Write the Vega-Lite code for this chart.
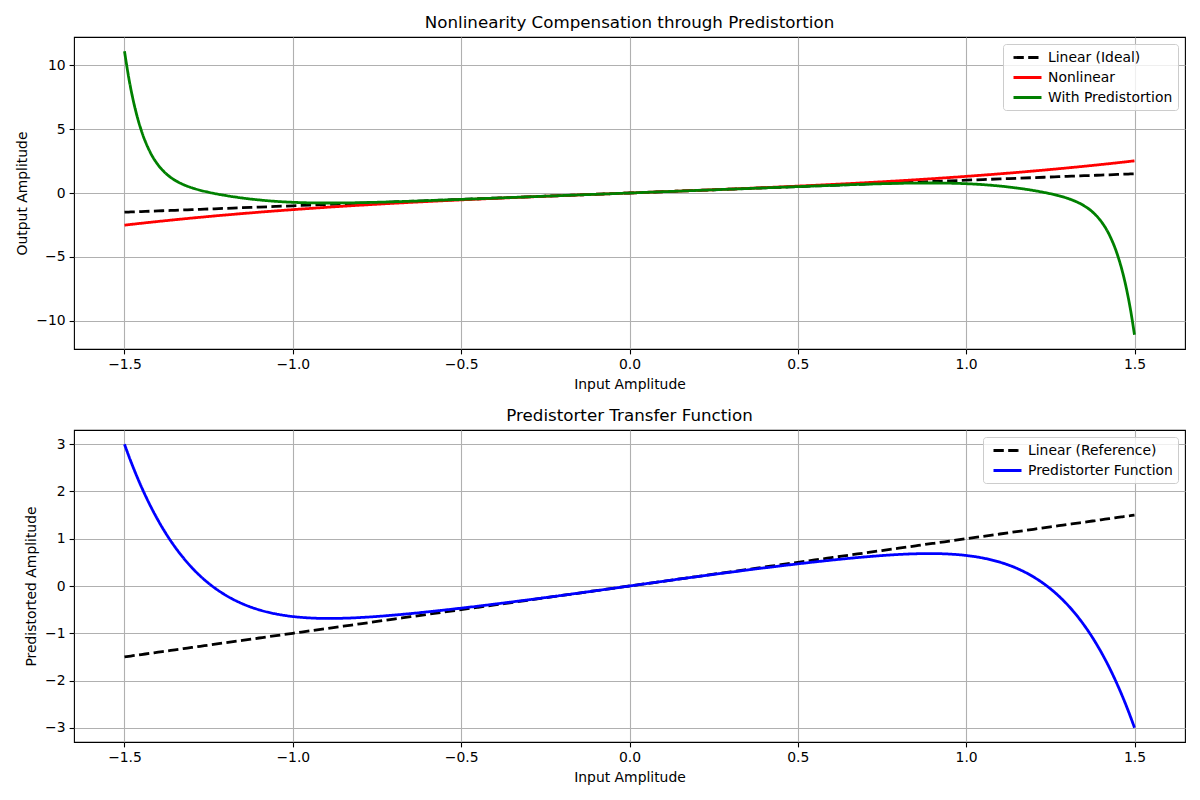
{
  "$schema": "https://vega.github.io/schema/vega-lite/v6.json",
  "background": "white",
  "padding": {"left": 15, "top": 14, "right": 5, "bottom": 5},
  "config": {
    "font": "DejaVu Sans",
    "view": {"stroke": "black", "strokeWidth": 1.1},
    "axis": {
      "grid": true,
      "gridColor": "#b0b0b0",
      "gridWidth": 1.1,
      "domain": false,
      "tickColor": "black",
      "tickWidth": 1.1,
      "tickSize": 4.9,
      "labelFontSize": 13.9,
      "labelColor": "black",
      "labelPadding": 4,
      "titleFontSize": 13.9,
      "titleFontWeight": "normal",
      "titleColor": "black",
      "titlePadding": 6
    },
    "title": {"fontSize": 16.7, "fontWeight": "normal", "color": "black", "offset": 5, "anchor": "middle"},
    "legend": {
      "orient": "top-right",
      "offset": 7,
      "title": null,
      "symbolType": "M-2,0H2",
      "symbolSize": 196,
      "symbolOffset": 11,
      "symbolStrokeWidth": 2.78,
      "symbolFillColor": "transparent",
      "labelFontSize": 13.9,
      "labelColor": "black",
      "labelOffset": 12,
      "rowPadding": 4,
      "padding": 5,
      "fillColor": "rgba(255,255,255,0.8)",
      "strokeColor": "#cccccc",
      "cornerRadius": 3
    },
    "line": {"strokeWidth": 2.78, "interpolate": "monotone"}
  },
  "datasets": {
    "curves": [
      {"x": -1.5, "nl": -2.5125, "out": 11.0821, "pd": 2.998},
      {"x": -1.4875, "nl": -2.4749, "out": 9.0241, "pd": 2.7545},
      {"x": -1.475, "nl": -2.4377, "out": 7.3482, "pd": 2.5241},
      {"x": -1.4625, "nl": -2.401, "out": 5.986, "pd": 2.3062},
      {"x": -1.45, "nl": -2.3646, "out": 4.88, "pd": 2.1003},
      {"x": -1.425, "nl": -2.2931, "out": 3.2557, "pd": 1.7225},
      {"x": -1.4, "nl": -2.2232, "out": 2.186, "pd": 1.3865},
      {"x": -1.375, "nl": -2.1549, "out": 1.4755, "pd": 1.0885},
      {"x": -1.35, "nl": -2.0881, "out": 0.9938, "pd": 0.8252},
      {"x": -1.325, "nl": -2.0229, "out": 0.6559, "pd": 0.5932},
      {"x": -1.3, "nl": -1.9591, "out": 0.4074, "pd": 0.3897},
      {"x": -1.275, "nl": -1.8968, "out": 0.2146, "pd": 0.2117},
      {"x": -1.25, "nl": -1.8359, "out": 0.057, "pd": 0.0569},
      {"x": -1.2, "nl": -1.7184, "out": -0.1946, "pd": -0.1925},
      {"x": -1.15, "nl": -1.6063, "out": -0.3908, "pd": -0.375},
      {"x": -1.1, "nl": -1.4993, "out": -0.5426, "pd": -0.5042},
      {"x": -1.05, "nl": -1.3973, "out": -0.6535, "pd": -0.5914},
      {"x": -1.0, "nl": -1.3, "out": -0.7269, "pd": -0.646},
      {"x": -0.95, "nl": -1.2072, "out": -0.7679, "pd": -0.6754},
      {"x": -0.9, "nl": -1.1187, "out": -0.7825, "pd": -0.6858},
      {"x": -0.85, "nl": -1.0342, "out": -0.7767, "pd": -0.6817},
      {"x": -0.8, "nl": -0.9536, "out": -0.7559, "pd": -0.6669},
      {"x": -0.75, "nl": -0.8766, "out": -0.7245, "pd": -0.6443},
      {"x": -0.7, "nl": -0.8029, "out": -0.6859, "pd": -0.6158},
      {"x": -0.65, "nl": -0.7324, "out": -0.6425, "pd": -0.5831},
      {"x": -0.6, "nl": -0.6648, "out": -0.5963, "pd": -0.5471},
      {"x": -0.55, "nl": -0.5999, "out": -0.5483, "pd": -0.5087},
      {"x": -0.5, "nl": -0.5375, "out": -0.4992, "pd": -0.4684},
      {"x": -0.45, "nl": -0.4773, "out": -0.4497, "pd": -0.4264},
      {"x": -0.4, "nl": -0.4192, "out": -0.3999, "pd": -0.383},
      {"x": -0.35, "nl": -0.3629, "out": -0.35, "pd": -0.3383},
      {"x": -0.3, "nl": -0.3081, "out": -0.3, "pd": -0.2925},
      {"x": -0.25, "nl": -0.2547, "out": -0.25, "pd": -0.2456},
      {"x": -0.2, "nl": -0.2024, "out": -0.2, "pd": -0.1977},
      {"x": -0.15, "nl": -0.151, "out": -0.15, "pd": -0.149},
      {"x": -0.1, "nl": -0.1003, "out": -0.1, "pd": -0.0997},
      {"x": -0.05, "nl": -0.05, "out": -0.05, "pd": -0.05},
      {"x": 0.0, "nl": 0.0, "out": 0.0, "pd": 0.0},
      {"x": 0.05, "nl": 0.05, "out": 0.05, "pd": 0.05},
      {"x": 0.1, "nl": 0.1003, "out": 0.1, "pd": 0.0997},
      {"x": 0.15, "nl": 0.151, "out": 0.15, "pd": 0.149},
      {"x": 0.2, "nl": 0.2024, "out": 0.2, "pd": 0.1977},
      {"x": 0.25, "nl": 0.2547, "out": 0.25, "pd": 0.2456},
      {"x": 0.3, "nl": 0.3081, "out": 0.3, "pd": 0.2925},
      {"x": 0.35, "nl": 0.3629, "out": 0.35, "pd": 0.3383},
      {"x": 0.4, "nl": 0.4192, "out": 0.3999, "pd": 0.383},
      {"x": 0.45, "nl": 0.4773, "out": 0.4497, "pd": 0.4264},
      {"x": 0.5, "nl": 0.5375, "out": 0.4992, "pd": 0.4684},
      {"x": 0.55, "nl": 0.5999, "out": 0.5483, "pd": 0.5087},
      {"x": 0.6, "nl": 0.6648, "out": 0.5963, "pd": 0.5471},
      {"x": 0.65, "nl": 0.7324, "out": 0.6425, "pd": 0.5831},
      {"x": 0.7, "nl": 0.8029, "out": 0.6859, "pd": 0.6158},
      {"x": 0.75, "nl": 0.8766, "out": 0.7245, "pd": 0.6443},
      {"x": 0.8, "nl": 0.9536, "out": 0.7559, "pd": 0.6669},
      {"x": 0.85, "nl": 1.0342, "out": 0.7767, "pd": 0.6817},
      {"x": 0.9, "nl": 1.1187, "out": 0.7825, "pd": 0.6858},
      {"x": 0.95, "nl": 1.2072, "out": 0.7679, "pd": 0.6754},
      {"x": 1.0, "nl": 1.3, "out": 0.7269, "pd": 0.646},
      {"x": 1.05, "nl": 1.3973, "out": 0.6535, "pd": 0.5914},
      {"x": 1.1, "nl": 1.4993, "out": 0.5426, "pd": 0.5042},
      {"x": 1.15, "nl": 1.6063, "out": 0.3908, "pd": 0.375},
      {"x": 1.2, "nl": 1.7184, "out": 0.1946, "pd": 0.1925},
      {"x": 1.25, "nl": 1.8359, "out": -0.057, "pd": -0.0569},
      {"x": 1.275, "nl": 1.8968, "out": -0.2146, "pd": -0.2117},
      {"x": 1.3, "nl": 1.9591, "out": -0.4074, "pd": -0.3897},
      {"x": 1.325, "nl": 2.0229, "out": -0.6559, "pd": -0.5932},
      {"x": 1.35, "nl": 2.0881, "out": -0.9938, "pd": -0.8252},
      {"x": 1.375, "nl": 2.1549, "out": -1.4755, "pd": -1.0885},
      {"x": 1.4, "nl": 2.2232, "out": -2.186, "pd": -1.3865},
      {"x": 1.425, "nl": 2.2931, "out": -3.2557, "pd": -1.7225},
      {"x": 1.45, "nl": 2.3646, "out": -4.88, "pd": -2.1003},
      {"x": 1.4625, "nl": 2.401, "out": -5.986, "pd": -2.3062},
      {"x": 1.475, "nl": 2.4377, "out": -7.3482, "pd": -2.5241},
      {"x": 1.4875, "nl": 2.4749, "out": -9.0241, "pd": -2.7545},
      {"x": 1.5, "nl": 2.5125, "out": -11.0821, "pd": -2.998}
    ]
  },
  "spacing": 14,
  "resolve": {"scale": {"color": "independent", "strokeDash": "independent", "x": "independent", "y": "independent"}},
  "vconcat": [
    {
      "width": 1111,
      "height": 312,
      "title": {"text": "Nonlinearity Compensation through Predistortion"},
      "data": {"name": "curves"},
      "encoding": {
        "x": {
          "field": "x",
          "type": "quantitative",
          "scale": {"domain": [-1.65, 1.65], "nice": false, "zero": false},
          "axis": {"values": [-1.5, -1, -0.5, 0, 0.5, 1, 1.5], "format": ".1f", "title": "Input Amplitude"}
        }
      },
      "layer": [
        {
          "mark": {"type": "line"},
          "encoding": {
            "y": {"field": "x", "type": "quantitative", "title": "Output Amplitude",
                  "scale": {"domain": [-12.19, 12.19], "nice": false, "zero": false},
                  "axis": {"values": [-10, -5, 0, 5, 10], "format": "d"}},
            "color": {"datum": "Linear (Ideal)", "type": "nominal",
                      "scale": {"domain": ["Linear (Ideal)", "Nonlinear", "With Predistortion"], "range": ["black", "red", "green"]},
                      "legend": {"title": null}},
            "strokeDash": {"datum": "Linear (Ideal)", "type": "nominal",
                           "scale": {"domain": ["Linear (Ideal)", "Nonlinear", "With Predistortion"], "range": [[10.3, 4.4], [1, 0], [1, 0]]},
                           "legend": {"title": null}}
          }
        },
        {
          "mark": {"type": "line"},
          "encoding": {
            "y": {"field": "nl", "type": "quantitative", "title": "Output Amplitude"},
            "color": {"datum": "Nonlinear", "type": "nominal"},
            "strokeDash": {"datum": "Nonlinear", "type": "nominal"}
          }
        },
        {
          "mark": {"type": "line"},
          "encoding": {
            "y": {"field": "out", "type": "quantitative", "title": "Output Amplitude"},
            "color": {"datum": "With Predistortion", "type": "nominal"},
            "strokeDash": {"datum": "With Predistortion", "type": "nominal"}
          }
        }
      ]
    },
    {
      "width": 1111,
      "height": 312,
      "title": {"text": "Predistorter Transfer Function"},
      "data": {"name": "curves"},
      "encoding": {
        "x": {
          "field": "x",
          "type": "quantitative",
          "scale": {"domain": [-1.65, 1.65], "nice": false, "zero": false},
          "axis": {"values": [-1.5, -1, -0.5, 0, 0.5, 1, 1.5], "format": ".1f", "title": "Input Amplitude"}
        }
      },
      "layer": [
        {
          "mark": {"type": "line"},
          "encoding": {
            "y": {"field": "x", "type": "quantitative", "title": "Predistorted Amplitude",
                  "scale": {"domain": [-3.3, 3.3], "nice": false, "zero": false},
                  "axis": {"values": [-3, -2, -1, 0, 1, 2, 3], "format": "d"}},
            "color": {"datum": "Linear (Reference)", "type": "nominal",
                      "scale": {"domain": ["Linear (Reference)", "Predistorter Function"], "range": ["black", "blue"]},
                      "legend": {"title": null}},
            "strokeDash": {"datum": "Linear (Reference)", "type": "nominal",
                           "scale": {"domain": ["Linear (Reference)", "Predistorter Function"], "range": [[10.3, 4.4], [1, 0]]},
                           "legend": {"title": null}}
          }
        },
        {
          "mark": {"type": "line"},
          "encoding": {
            "y": {"field": "pd", "type": "quantitative", "title": "Predistorted Amplitude"},
            "color": {"datum": "Predistorter Function", "type": "nominal"},
            "strokeDash": {"datum": "Predistorter Function", "type": "nominal"}
          }
        }
      ]
    }
  ]
}
